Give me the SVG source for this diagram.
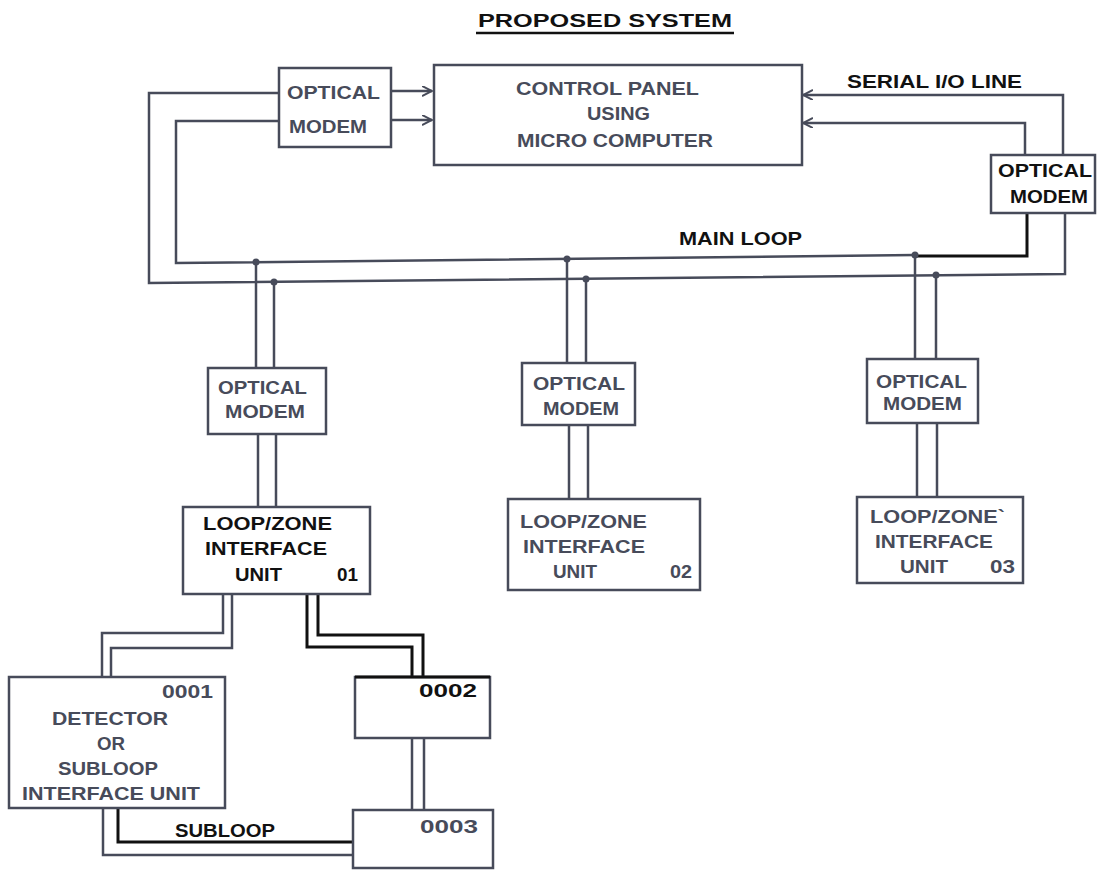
<svg xmlns="http://www.w3.org/2000/svg" width="1097" height="872" viewBox="0 0 1097 872">
<style>
.bg{fill:#ffffff}
.box{fill:#ffffff;stroke:#474b5a;stroke-width:2.5}
.ln{fill:none;stroke:#474b5a;stroke-width:2.5}
.lk{fill:none;stroke:#111111;stroke-width:3}
.t{font-family:"Liberation Sans",Arial,sans-serif;font-weight:bold;fill:#474b5a;font-size:19px}
.k{fill:#111111}
.dot{fill:#474b5a}
</style>
<defs>
<marker id="ah" markerWidth="12" markerHeight="12" refX="10" refY="5" orient="auto" markerUnits="userSpaceOnUse">
<path d="M0,0 L10,5 L0,10" fill="none" stroke="#474b5a" stroke-width="2"/>
</marker>
</defs>
<rect class="bg" x="0" y="0" width="1097" height="872"/>

<g id="title">
<text class="t k" x="478" y="27" font-size="21" textLength="254" lengthAdjust="spacingAndGlyphs">PROPOSED SYSTEM</text>
<line x1="476" y1="33" x2="734" y2="33" stroke="#111" stroke-width="2.5"/>
</g>

<g id="connectors">
<path class="ln" d="M279 93 H149 V283 L1065 274 V213"/>
<path class="ln" d="M279 121 H176 V263 L915 255"/>
<path class="lk" d="M915 256 H1027 V213" stroke-width="2.5"/>
<path class="ln" d="M391 91 H432" marker-end="url(#ah)"/>
<path class="ln" d="M391 120 H432" marker-end="url(#ah)"/>
<path class="ln" d="M1063 155 V95 H803" marker-end="url(#ah)"/>
<path class="ln" d="M1025 155 V123 H803" marker-end="url(#ah)"/>
<path class="ln" d="M256 262 V368 M274 282 V368 M258 434 V507 M276 434 V507"/>
<path class="ln" d="M567 259 V363 M586 279 V363 M569 425 V499 M588 425 V499"/>
<path class="ln" d="M915 255 V359 M936 275 V359 M917 423 V497 M937 423 V497"/>
<circle class="dot" cx="256" cy="262" r="3.5"/>
<circle class="dot" cx="274" cy="282" r="3.5"/>
<circle class="dot" cx="567" cy="259" r="3.5"/>
<circle class="dot" cx="586" cy="279" r="3.5"/>
<circle class="dot" cx="915" cy="255" r="3.5"/>
<circle class="dot" cx="936" cy="275" r="3.5"/>
<path class="ln" d="M223 594 V633 H102 V677"/>
<path class="ln" d="M232 594 V648 H111 V677"/>
<path class="lk" d="M307 594 V647 H412 V677"/>
<path class="lk" d="M318 594 V635 H423 V677"/>
<path class="ln" d="M412 738 V810 M424 738 V810"/>
<path class="ln" d="M103 808 V855 H353"/>
<path class="lk" d="M118 808 V842 H353"/>
</g>

<g id="modem-top-left">
<rect class="box" x="279" y="68" width="112" height="79"/>
<text class="t" x="287" y="99" font-size="20" textLength="93" lengthAdjust="spacingAndGlyphs">OPTICAL</text>
<text class="t" x="289" y="133" font-size="20" textLength="78" lengthAdjust="spacingAndGlyphs">MODEM</text>
</g>

<g id="control-panel">
<rect class="box" x="434" y="65" width="368" height="100"/>
<text class="t" x="516" y="95" font-size="18" textLength="183" lengthAdjust="spacingAndGlyphs">CONTROL PANEL</text>
<text class="t" x="587" y="120" font-size="18" textLength="63" lengthAdjust="spacingAndGlyphs">USING</text>
<text class="t" x="517" y="147" font-size="18" textLength="196" lengthAdjust="spacingAndGlyphs">MICRO COMPUTER</text>
</g>

<g id="serial-label">
<text class="t k" x="847" y="88" font-size="18" textLength="175" lengthAdjust="spacingAndGlyphs">SERIAL I/O LINE</text>
</g>

<g id="modem-top-right">
<rect class="box" x="991" y="155" width="104" height="58" stroke="#111"/>
<text class="t k" x="998" y="177" font-size="19" textLength="94" lengthAdjust="spacingAndGlyphs">OPTICAL</text>
<text class="t k" x="1010" y="203" font-size="19" textLength="78" lengthAdjust="spacingAndGlyphs">MODEM</text>
</g>

<g id="main-loop-label">
<text class="t k" x="679" y="245" font-size="18" textLength="123" lengthAdjust="spacingAndGlyphs">MAIN LOOP</text>
</g>

<g id="modem-1">
<rect class="box" x="208" y="368" width="118" height="66"/>
<text class="t" x="218" y="394" textLength="89" lengthAdjust="spacingAndGlyphs">OPTICAL</text>
<text class="t" x="225" y="418" textLength="80" lengthAdjust="spacingAndGlyphs">MODEM</text>
</g>

<g id="modem-2">
<rect class="box" x="522" y="363" width="113" height="62"/>
<text class="t" x="533" y="390" textLength="92" lengthAdjust="spacingAndGlyphs">OPTICAL</text>
<text class="t" x="543" y="415" textLength="76" lengthAdjust="spacingAndGlyphs">MODEM</text>
</g>

<g id="modem-3">
<rect class="box" x="867" y="359" width="111" height="64"/>
<text class="t" x="876" y="388" textLength="91" lengthAdjust="spacingAndGlyphs">OPTICAL</text>
<text class="t" x="883" y="410" textLength="79" lengthAdjust="spacingAndGlyphs">MODEM</text>
</g>

<g id="lz-01">
<rect class="box" x="183" y="507" width="187" height="87"/>
<text class="t k" x="203" y="530" textLength="129" lengthAdjust="spacingAndGlyphs">LOOP/ZONE</text>
<text class="t k" x="205" y="555" textLength="122" lengthAdjust="spacingAndGlyphs">INTERFACE</text>
<text class="t k" x="235" y="581" textLength="47" lengthAdjust="spacingAndGlyphs">UNIT</text>
<text class="t k" x="337" y="581" textLength="21" lengthAdjust="spacingAndGlyphs">01</text>
</g>

<g id="lz-02">
<rect class="box" x="508" y="499" width="192" height="91"/>
<text class="t" x="520" y="528" textLength="127" lengthAdjust="spacingAndGlyphs">LOOP/ZONE</text>
<text class="t" x="523" y="553" textLength="122" lengthAdjust="spacingAndGlyphs">INTERFACE</text>
<text class="t" x="553" y="578" textLength="44" lengthAdjust="spacingAndGlyphs">UNIT</text>
<text class="t" x="670" y="578" textLength="22" lengthAdjust="spacingAndGlyphs">02</text>
</g>

<g id="lz-03">
<rect class="box" x="857" y="497" width="166" height="86"/>
<text class="t" x="870" y="523" textLength="135" lengthAdjust="spacingAndGlyphs">LOOP/ZONE`</text>
<text class="t" x="875" y="548" textLength="118" lengthAdjust="spacingAndGlyphs">INTERFACE</text>
<text class="t" x="900" y="573" textLength="48" lengthAdjust="spacingAndGlyphs">UNIT</text>
<text class="t" x="990" y="573" textLength="25" lengthAdjust="spacingAndGlyphs">03</text>
</g>

<g id="unit-0001">
<rect class="box" x="9" y="677" width="216" height="131"/>
<text class="t" x="162" y="698" textLength="51" lengthAdjust="spacingAndGlyphs">0001</text>
<text class="t" x="52" y="725" textLength="116" lengthAdjust="spacingAndGlyphs">DETECTOR</text>
<text class="t" x="97" y="750" textLength="28" lengthAdjust="spacingAndGlyphs">OR</text>
<text class="t" x="58" y="775" textLength="100" lengthAdjust="spacingAndGlyphs">SUBLOOP</text>
<text class="t" x="22" y="800" textLength="178" lengthAdjust="spacingAndGlyphs">INTERFACE UNIT</text>
</g>

<g id="unit-0002">
<rect class="box" x="355" y="677" width="135" height="61"/>
<line x1="355" y1="677" x2="490" y2="677" stroke="#111" stroke-width="3"/>
<text class="t k" x="419" y="697" textLength="58" lengthAdjust="spacingAndGlyphs">0002</text>
</g>

<g id="unit-0003">
<rect class="box" x="353" y="810" width="140" height="58"/>
<text class="t" x="420" y="833" textLength="58" lengthAdjust="spacingAndGlyphs">0003</text>
</g>

<g id="subloop-label">
<text class="t k" x="175" y="837" textLength="100" lengthAdjust="spacingAndGlyphs">SUBLOOP</text>
</g>
</svg>
